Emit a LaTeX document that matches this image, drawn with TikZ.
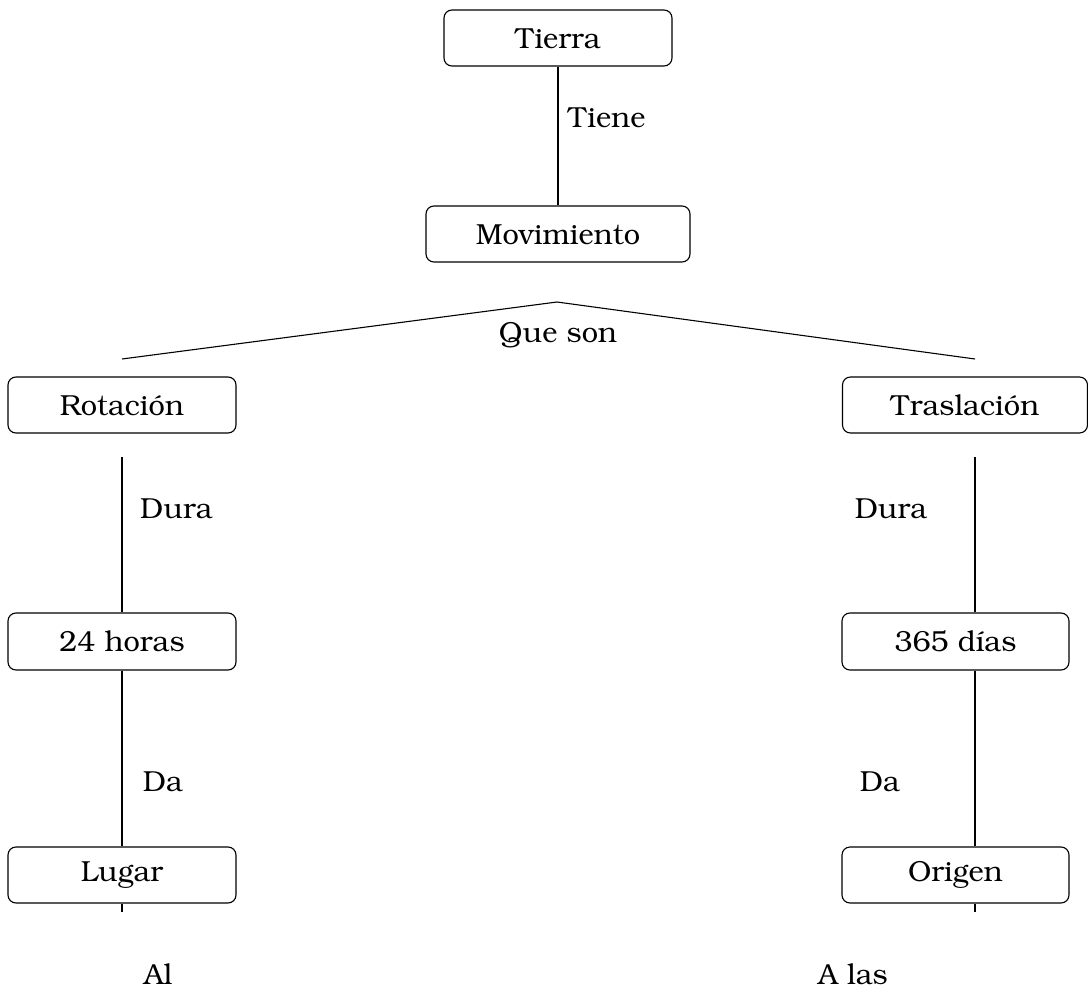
\documentclass[tikz,border=0pt]{standalone}
\usepackage[T1]{fontenc}
\usepackage{bookman}
\begin{document}
\begin{tikzpicture}[x=1pt,y=-1pt,
  box/.style={draw,rounded corners=8pt,line width=1.1pt,minimum height=56pt,inner sep=0pt,font=\fontsize{29}{33}\selectfont},
  lbl/.style={inner sep=0pt,font=\fontsize{29}{33}\selectfont},
  conn/.style={line width=1.1pt}]
\useasboundingbox (0,0) rectangle (1088,990);
\node[box,minimum width=228pt] (tierra) at (558,38) {Tierra};
\node[box,minimum width=264pt] (mov) at (558,234) {Movimiento};
\node[box,minimum width=228pt] (rot) at (122,405) {Rotación};
\node[box,minimum width=245pt] (tras) at (965,405) {Traslación};
\node[box,minimum width=228pt,minimum height=57pt] (h24) at (122,641.5) {24 horas};
\node[box,minimum width=227pt,minimum height=57pt] (d365) at (955.5,641.5) {365 días};
\node[box,minimum width=228pt] (lugar) at (122,875) {Lugar};
\node[box,minimum width=227pt] (origen) at (955.5,875) {Origen};
% labels
\node[lbl,anchor=base west] (tiene) at (568,128) {Tiene};
\node[lbl,anchor=base] (queson) at (558,342) {Que son};
\node[lbl,anchor=base west] (dura1) at (140,518) {Dura};
\node[lbl,anchor=base] (dura2) at (891,518) {Dura};
\node[lbl,anchor=base] (da1) at (163,791) {Da};
\node[lbl,anchor=base] (da2) at (880,791) {Da};
\node[lbl,anchor=base] (al) at (158,984) {Al};
\node[lbl,anchor=base] (alas) at (853,984) {A las};
% coordinates
\coordinate (split) at (557,302);
\coordinate (lend) at (122,359);
\coordinate (rend) at (975,359);
\coordinate (l1) at (122,457);
\coordinate (l3) at (122,912);
\coordinate (r1) at (975,457);
\coordinate (r3) at (975,912);
% connectors
\draw[conn] (tierra.south) -- (mov.north);
\draw[conn] (split) -- (lend);
\draw[conn] (split) -- (rend);
\draw[conn] (l1) -- (h24.north);
\draw[conn] (h24.south) -- (lugar.north);
\draw[conn] (lugar.south) -- (l3);
\draw[conn] (r1) -- (r1 |- d365.north);
\draw[conn] (d365.south -| r1) -- (origen.north -| r1);
\draw[conn] (origen.south -| r1) -- (r3);
\end{tikzpicture}
\end{document}
